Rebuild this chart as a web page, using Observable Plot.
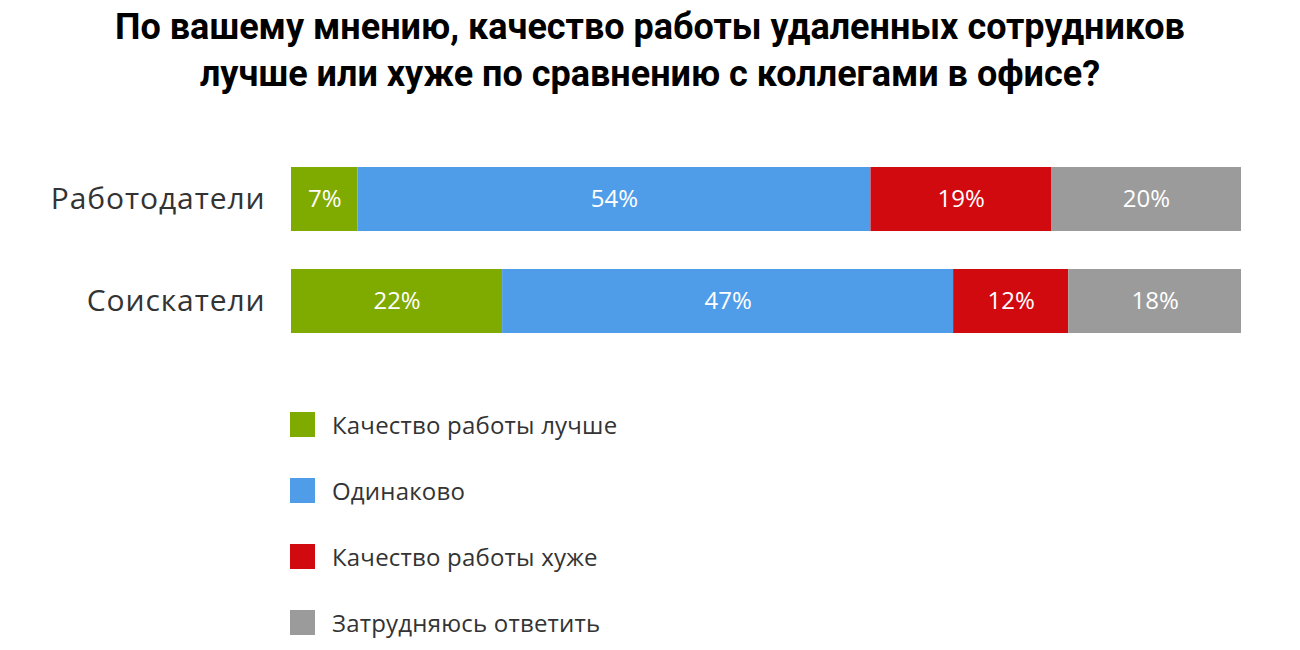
<!DOCTYPE html>
<html><head><meta charset="utf-8">
<script src="https://cdn.jsdelivr.net/npm/d3@7"></script>
<script src="https://cdn.jsdelivr.net/npm/@observablehq/plot@0.6"></script>
<style>
body{margin:0;background:#fff;font-family:"Open Sans",sans-serif;}
#wrap{position:relative;width:1300px;height:650px;overflow:hidden;}
#title{position:absolute;left:0;top:4px;width:1300px;text-align:center;font-family:Roboto,sans-serif;font-weight:700;font-size:36px;line-height:47px;color:#000;}
#chart{position:absolute;left:0;top:110px;}
#legend{position:absolute;left:290px;top:411px;}
.li{display:flex;align-items:center;height:26px;margin-bottom:40px;font-size:24px;letter-spacing:0.2px;color:#333;}
.sw{width:25px;height:25px;margin-right:17px;}
</style></head>
<body><div id="wrap">
<div id="title">По вашему мнению, качество работы удаленных сотрудников<br>лучше или хуже по сравнению с коллегами в офисе?</div>
<div id="chart"></div>
<div id="legend"></div>
</div>
<script>
const groups = ["Работодатели", "Соискатели"];
const categories = ["Качество работы лучше", "Одинаково", "Качество работы хуже", "Затрудняюсь ответить"];
const employers = [7, 54, 19, 20];
const seekers = [22, 47, 12, 18];
const colors = ["#7faa00", "#4f9de9", "#d10a10", "#9b9b9b"];

const series = [employers, seekers];
const data = [];
groups.forEach((g, gi) => categories.forEach((c, ci) => data.push({group: g, category: c, value: series[gi][ci]})));

const chart = Plot.plot({
  width: 1300,
  height: 280,
  marginLeft: 291,
  marginRight: 59,
  marginTop: 19,
  marginBottom: 19,
  style: {fontFamily: "'Open Sans', sans-serif", color: "#333", background: "#fff"},
  x: {axis: null, domain: [0, 1]},
  y: {domain: groups, padding: 0.3725, label: null},
  color: {domain: categories, range: colors},
  marks: [
    Plot.barX(data, Plot.stackX({x: "value", y: "group", fill: "category", offset: "normalize", order: categories})),
    Plot.text(data, Plot.stackX({x: "value", y: "group", z: "category", text: d => d.value + "%", offset: "normalize", order: categories, fill: "white", fontSize: 24})),
    Plot.axisY({tickSize: 0, tickPadding: 26, fontSize: 30, label: null})
  ]
});
chart.querySelectorAll("g[aria-label='y-axis tick label']").forEach(e => e.style.letterSpacing = "0.9px");
document.getElementById("chart").appendChild(chart);

const leg = document.getElementById("legend");
categories.forEach((c, i) => {
  const d = document.createElement("div");
  d.className = "li";
  d.innerHTML = `<div class="sw" style="background:${colors[i]}"></div><span>${c}</span>`;
  leg.appendChild(d);
});
</script>
</body></html>
